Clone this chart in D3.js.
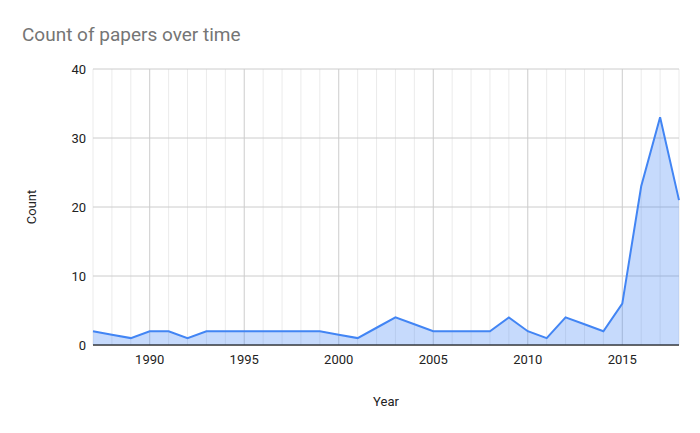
<!DOCTYPE html>
<html>
<head>
<meta charset="utf-8">
<script src="https://cdn.jsdelivr.net/npm/d3@7"></script>
<style>
  body { margin: 0; background: #fff; }
  text { font-family: Roboto, Arial, sans-serif; }
</style>
</head>
<body>
<div id="chart-area"></div>
<script>
// data
var years = d3.range(1987, 2019)
var counts = [2, 1.5, 1, 2, 2, 1, 2, 2, 2, 2, 2, 2, 2, 1.5, 1, 2.5, 4, 3, 2, 2, 2, 2, 4, 2, 1, 4, 3, 2, 6, 23, 33, 21]
var yTicks = [0, 10, 20, 30, 40]
var xTicks = [1990, 1995, 2000, 2005, 2010, 2015]

var data = years.map(function (y, i) { return {year: y, count: counts[i]} })

var margin = {left: 93, right: 21, top: 69, bottom: 88}
var width = 700 - margin.left - margin.right
var height = 433 - margin.top - margin.bottom

var svg = d3.select('#chart-area')
  .append('svg')
  .attr('width', 700)
  .attr('height', 433)

var g = svg.append('g')
  .attr('transform', 'translate(' + margin.left + ', ' + margin.top + ')')

var x = d3.scaleLinear().domain([1987, 2018]).range([0, width])
var y = d3.scaleLinear().domain([0, 40]).range([height, 0])

// minor vertical grid every year
g.selectAll('.minor')
  .data(years.filter(function (d) { return d % 5 !== 0 }))
  .enter().append('line')
  .attr('x1', function (d) { return x(d) })
  .attr('x2', function (d) { return x(d) })
  .attr('y1', 0).attr('y2', height)
  .attr('stroke', '#ebebeb')

// major vertical grid
g.selectAll('.major')
  .data(xTicks)
  .enter().append('line')
  .attr('x1', function (d) { return x(d) })
  .attr('x2', function (d) { return x(d) })
  .attr('y1', 0).attr('y2', height)
  .attr('stroke', '#cccccc')

// horizontal grid
g.selectAll('.hgrid')
  .data(yTicks)
  .enter().append('line')
  .attr('x1', 0).attr('x2', width)
  .attr('y1', function (d) { return y(d) })
  .attr('y2', function (d) { return y(d) })
  .attr('stroke', function (d) { return d === 0 ? '#333' : '#cccccc' })

// area + line
g.append('path')
  .datum(data)
  .attr('fill', '#4285f4')
  .attr('fill-opacity', 0.3)
  .attr('d', d3.area()
    .x(function (d) { return x(d.year) })
    .y0(y(0))
    .y1(function (d) { return y(d.count) }))

g.append('path')
  .datum(data)
  .attr('fill', 'none')
  .attr('stroke', '#4285f4')
  .attr('stroke-width', 2)
  .attr('d', d3.line()
    .x(function (d) { return x(d.year) })
    .y(function (d) { return y(d.count) }))

// redraw baseline on top
g.append('line')
  .attr('x1', 0).attr('x2', width)
  .attr('y1', y(0)).attr('y2', y(0))
  .attr('stroke', '#333')

// tick labels
g.selectAll('.xlab')
  .data(xTicks)
  .enter().append('text')
  .attr('x', function (d) { return x(d) })
  .attr('y', height + 19)
  .attr('text-anchor', 'middle')
  .attr('font-size', '13px')
  .attr('fill', '#222')
  .text(function (d) { return d })

g.selectAll('.ylab')
  .data(yTicks)
  .enter().append('text')
  .attr('x', -7)
  .attr('y', function (d) { return y(d) + 5 })
  .attr('text-anchor', 'end')
  .attr('font-size', '13px')
  .attr('fill', '#222')
  .text(function (d) { return d })

// axis titles
svg.append('text')
  .attr('x', margin.left + width / 2)
  .attr('y', 406)
  .attr('text-anchor', 'middle')
  .attr('font-size', '13px')
  .attr('fill', '#222')
  .text('Year')

svg.append('text')
  .attr('transform', 'translate(36, ' + (margin.top + height / 2) + ') rotate(-90)')
  .attr('text-anchor', 'middle')
  .attr('font-size', '13px')
  .attr('fill', '#222')
  .text('Count')

// title
svg.append('text')
  .attr('x', 22)
  .attr('y', 41)
  .attr('font-size', '19px')
  .attr('fill', '#757575')
  .text('Count of papers over time')
</script>
</body>
</html>
